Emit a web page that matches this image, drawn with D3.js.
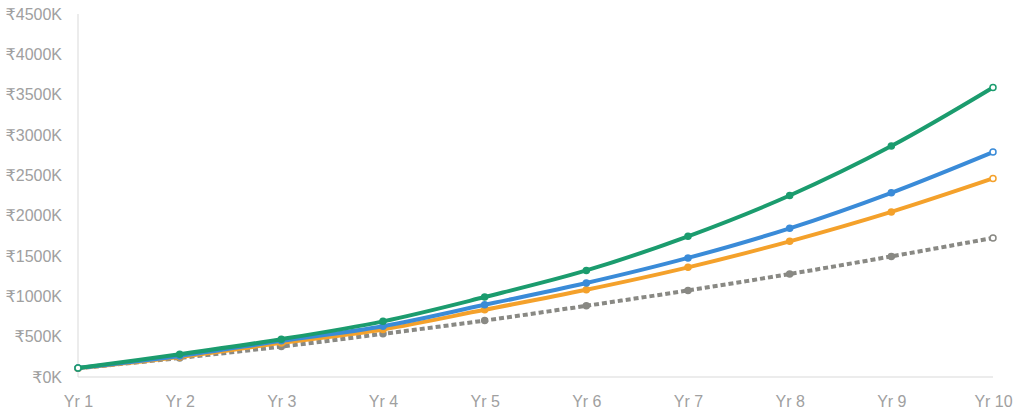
<!DOCTYPE html>
<html>
<head>
<meta charset="utf-8">
<script src="https://cdn.jsdelivr.net/npm/d3@7"></script>
<style>
  html, body { margin: 0; padding: 0; background: #fff; }
  svg text { font-family: Arial, "Liberation Sans", "DejaVu Sans", sans-serif; }
</style>
</head>
<body>
<svg id="chart" width="1018" height="420"></svg>
<script>
const categories = ["Yr 1","Yr 2","Yr 3","Yr 4","Yr 5","Yr 6","Yr 7","Yr 8","Yr 9","Yr 10"];
const greenValues  = [112, 282, 469, 690, 991, 1321, 1744, 2250, 2863, 3589];
const blueValues   = [112, 261, 448, 630, 895, 1165, 1476, 1843, 2284, 2788];
const orangeValues = [110, 249, 423, 590, 833, 1081, 1359, 1682, 2047, 2461];
const grayValues   = [108, 236, 377, 535, 700, 883, 1073, 1277, 1495, 1724];
const yTicks = [0, 500, 1000, 1500, 2000, 2500, 3000, 3500, 4000, 4500];

const svg = d3.select("#chart");
const x = d3.scalePoint().domain(categories).range([78, 993]);
const y = d3.scaleLinear().domain([0, 4500]).range([377, 14]);

// axes lines
svg.append("line").attr("x1", 78).attr("x2", 78).attr("y1", y(4500)).attr("y2", y(0))
  .attr("stroke", "#d9d9d9").attr("stroke-width", 1);
svg.append("line").attr("x1", 78).attr("x2", 993).attr("y1", y(0)).attr("y2", y(0))
  .attr("stroke", "#d9d9d9").attr("stroke-width", 1);

const yAxis = d3.axisLeft(y).tickValues(yTicks).tickSize(0).tickPadding(16)
  .tickFormat(d => "₹" + d + "K");
const gy = svg.append("g").attr("transform", "translate(78,0)").call(yAxis);
gy.select(".domain").remove();
gy.selectAll("text").attr("fill", "#a0a0a0").style("font-size", "16px");

const xAxis = d3.axisBottom(x).tickSize(0).tickPadding(19);
const gx = svg.append("g").attr("transform", "translate(0," + y(0) + ")").call(xAxis);
gx.select(".domain").remove();
gx.selectAll("text").attr("fill", "#a0a0a0").style("font-size", "16px");

const series = [
  { values: grayValues,   color: "#898984", dash: "5,3" },
  { values: orangeValues, color: "#f4a12b", dash: null },
  { values: blueValues,   color: "#3a8bd8", dash: null },
  { values: greenValues,  color: "#1b9c6e", dash: null }
];

const line = d3.line()
  .x((d, i) => x(categories[i]))
  .y(d => y(d))
  .curve(d3.curveCatmullRom.alpha(0.5));

series.forEach(s => {
  svg.append("path").datum(s.values)
    .attr("d", line)
    .attr("fill", "none")
    .attr("stroke", s.color)
    .attr("stroke-width", 4)
    .attr("stroke-dasharray", s.dash)
    .attr("stroke-linecap", "butt");
  svg.selectAll(null).data(s.values).enter().append("circle")
    .attr("cx", (d, i) => x(categories[i]))
    .attr("cy", d => y(d))
    .attr("r", 3)
    .attr("fill", (d, i) => (i === 0 || i === s.values.length - 1) ? "#fff" : s.color)
    .attr("stroke", s.color)
    .attr("stroke-width", 1.5);
});
</script>
</body>
</html>
